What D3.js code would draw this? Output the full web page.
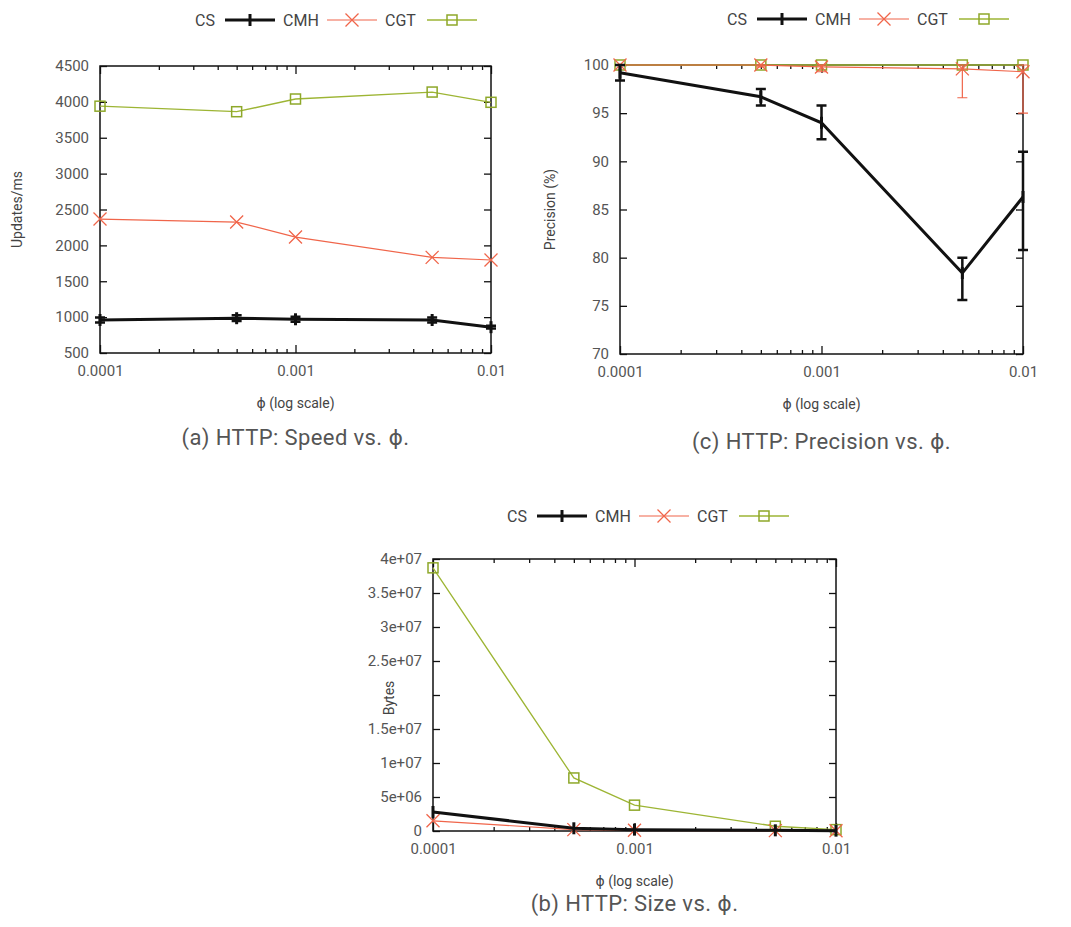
<!DOCTYPE html>
<html>
<head>
<meta charset="utf-8">
<script src="https://cdn.jsdelivr.net/npm/d3@7"></script>
<style>
  body { margin: 0; background: #fff; }
  svg { display: block; font-family: Roboto, "DejaVu Sans", sans-serif; }
  .tick text { fill: #555; font-size: 15px; }
  .lbl { fill: #444; font-size: 14px; }
  .cap { fill: #555; font-size: 22px; letter-spacing: 0.4px; }
  .leg { fill: #444; font-size: 16px; }
</style>
</head>
<body>
<svg id="chart" width="1071" height="927"></svg>
<script>
const phi = [0.0001, 0.0005, 0.001, 0.005, 0.01];
const seriesNames = ["CS", "CMH", "CGT"];
const xTickLabels = ["0.0001", "0.001", "0.01"];

// (a) speed
const speedCS = [960, 985, 970, 960, 860];
const speedCSLow = [925, 945, 935, 925, 840];
const speedCSHigh = [995, 1025, 1005, 995, 880];
const speedCMH = [2367, 2325, 2116, 1833, 1796];
const speedCGT = [3940, 3863, 4040, 4137, 3994];
const speedTicks = [500, 1000, 1500, 2000, 2500, 3000, 3500, 4000, 4500];

// (c) precision
const precCS = [99.2, 96.7, 94.0, 78.4, 86.3];
const precCSLow = [98.4, 95.8, 92.3, 75.6, 80.8];
const precCSHigh = [100, 97.5, 95.8, 80.0, 91.0];
const precCMH = [100, 100, 99.8, 99.6, 99.3];
const precCMHLow = [100, 99.8, 99.3, 96.6, 95.0];
const precCMHHigh = [100, 100, 100, 100, 100];
const precCGT = [100, 100, 100, 100, 100];
const precTicks = [70, 75, 80, 85, 90, 95, 100];

// (b) size  (the 2e+07 label sits under the "Bytes" title in the original)
const sizeCS = [2.8e6, 4e5, 2e5, 1e5, 5e4];
const sizeCMH = [1.5e6, 2e5, 1e5, 5e4, 3e4];
const sizeCGT = [3.87e7, 7.8e6, 3.8e6, 7e5, 2e5];
const sizeTicks = [0, 5e6, 1e7, 1.5e7, 2e7, 2.5e7, 3e7, 3.5e7, 4e7];
const sizeTickLabels = ["0", "5e+06", "1e+07", "1.5e+07", "", "2.5e+07", "3e+07", "3.5e+07", "4e+07"];

const colors = { CS: "#111", CMH: "#f0654a", CGT: "#9db534" };

const svg = d3.select("#chart");

function marker(g, name, x, y) {
  if (name === "CMH") {
    const s = 6.5;
    g.append("path")
      .attr("d", `M${x - s},${y - s}L${x + s},${y + s}M${x - s},${y + s}L${x + s},${y - s}`)
      .attr("stroke", colors.CMH).attr("stroke-width", 1.3).attr("fill", "none");
  } else if (name === "CGT") {
    g.append("rect").attr("x", x - 5).attr("y", y - 5).attr("width", 10).attr("height", 10)
      .attr("fill", "none").attr("stroke", "#8ea82a").attr("stroke-width", 1.5);
  } else {
    g.append("path")
      .attr("d", `M${x},${y - 6}L${x},${y + 6}`)
      .attr("stroke", colors.CS).attr("stroke-width", 3);
  }
}

function errBar(g, color, x, y0, y1, w) {
  g.append("path")
    .attr("d", `M${x},${y0}L${x},${y1}M${x - 5},${y0}L${x + 5},${y0}M${x - 5},${y1}L${x + 5},${y1}`)
    .attr("stroke", color).attr("stroke-width", w).attr("fill", "none");
}

function drawPanel(p) {
  const x = d3.scaleLog().domain([1e-4, 1e-2]).range([p.left, p.right]);
  const y = d3.scaleLinear().domain(p.yDomain).range([p.bottom, p.top]);
  const g = svg.append("g");

  const majors = [1e-4, 1e-3, 1e-2];
  const minors = [];
  [1e-4, 1e-3].forEach(d => { for (let k = 2; k <= 9; k++) minors.push(d * k); });

  // bottom axis with labels, mirrored on top
  g.append("g").attr("transform", `translate(0,${p.bottom})`)
    .call(d3.axisBottom(x).tickValues(majors).tickSize(-8).tickPadding(12)
      .tickFormat((d, i) => xTickLabels[i]));
  g.append("g").attr("transform", `translate(0,${p.bottom})`)
    .call(d3.axisBottom(x).tickValues(minors).tickSize(-4).tickFormat(""));
  g.append("g").attr("transform", `translate(0,${p.top})`)
    .call(d3.axisTop(x).tickValues(majors).tickSize(-8).tickFormat(""));
  g.append("g").attr("transform", `translate(0,${p.top})`)
    .call(d3.axisTop(x).tickValues(minors).tickSize(-4).tickFormat(""));

  g.append("g").attr("transform", `translate(${p.left},0)`)
    .call(d3.axisLeft(y).tickValues(p.yTicks).tickSize(-7).tickPadding(11)
      .tickFormat((d, i) => p.yLabels ? p.yLabels[i] : d));
  g.append("g").attr("transform", `translate(${p.right},0)`)
    .call(d3.axisRight(y).tickValues(p.yTicks).tickSize(-7).tickFormat(""));

  g.selectAll(".domain").remove();
  g.selectAll(".tick line").attr("stroke", "#111").attr("stroke-width", 1.3);
  g.selectAll(".tick text").attr("font-family", "Roboto, sans-serif");

  g.append("rect").attr("x", p.left).attr("y", p.top)
    .attr("width", p.right - p.left).attr("height", p.bottom - p.top)
    .attr("fill", "none").attr("stroke", "#111").attr("stroke-width", 1.5);

  // series, drawn CGT then CMH then CS (CS on top)
  const widths = { CS: 3, CMH: 1.2, CGT: 1.3 };
  ["CGT", "CMH", "CS"].forEach(name => {
    const vals = p.data[name];
    const line = d3.line().x((d, i) => x(phi[i])).y(d => y(d));
    if (p.err && p.err[name]) {
      const [lo, hi] = p.err[name];
      phi.forEach((f, i) => {
        if (hi[i] - lo[i] > 0.002 * (p.yDomain[1] - p.yDomain[0]))
          errBar(g, colors[name], x(f), y(lo[i]), y(hi[i]), name === "CS" ? 2.5 : 1.2);
      });
    }
    g.append("path").datum(vals).attr("d", line)
      .attr("fill", "none").attr("stroke", colors[name]).attr("stroke-width", widths[name]);
    vals.forEach((v, i) => marker(g, name, x(phi[i]), y(v)));
  });

  // legend
  const legTextW = { CS: 24, CMH: 38, CGT: 36 };
  let cx = p.legendX;
  seriesNames.forEach(name => {
    g.append("text").attr("class", "leg").attr("x", cx).attr("y", p.legendY + 6).text(name);
    const lx0 = cx + legTextW[name] + 6;
    g.append("line").attr("x1", lx0).attr("x2", lx0 + 50)
      .attr("y1", p.legendY).attr("y2", p.legendY)
      .attr("stroke", colors[name]).attr("stroke-width", widths[name]);
    marker(g, name, lx0 + 25, p.legendY);
    cx = lx0 + 50 + 8;
  });

  // axis titles and caption
  g.append("text").attr("class", "lbl").attr("text-anchor", "middle")
    .attr("transform", `translate(${p.yLabelX},${p.yLabelY || (p.top + p.bottom) / 2}) rotate(-90)`)
    .text(p.yTitle);
  g.append("text").attr("class", "lbl").attr("text-anchor", "middle")
    .attr("x", (p.left + p.right) / 2).attr("y", p.bottom + 55)
    .text("\u03d5 (log scale)");
  g.append("text").attr("class", "cap").attr("text-anchor", "middle")
    .attr("x", (p.left + p.right) / 2).attr("y", p.bottom + p.capOffset)
    .text(p.caption);
}

drawPanel({
  left: 100, right: 491, top: 66, bottom: 353,
  yDomain: [500, 4500], yTicks: speedTicks,
  data: { CS: speedCS, CMH: speedCMH, CGT: speedCGT },
  err: { CS: [speedCSLow, speedCSHigh] },
  legendX: 195, legendY: 20,
  yTitle: "Updates/ms", yLabelX: 22,
  caption: "(a)  HTTP: Speed vs. \u03d5.", capOffset: 92
});

drawPanel({
  left: 620, right: 1023, top: 65, bottom: 354,
  yDomain: [70, 100], yTicks: precTicks,
  data: { CS: precCS, CMH: precCMH, CGT: precCGT },
  err: { CS: [precCSLow, precCSHigh], CMH: [precCMHLow, precCMHHigh] },
  legendX: 727, legendY: 19,
  yTitle: "Precision (%)", yLabelX: 555,
  caption: "(c)  HTTP: Precision vs. \u03d5.", capOffset: 95
});

drawPanel({
  left: 433, right: 836, top: 559, bottom: 831,
  yDomain: [0, 4e7], yTicks: sizeTicks, yLabels: sizeTickLabels,
  data: { CS: sizeCS, CMH: sizeCMH, CGT: sizeCGT },
  legendX: 507, legendY: 516,
  yTitle: "Bytes", yLabelX: 394, yLabelY: 698,
  caption: "(b)  HTTP: Size vs. \u03d5.", capOffset: 80
});
</script>
</body>
</html>
